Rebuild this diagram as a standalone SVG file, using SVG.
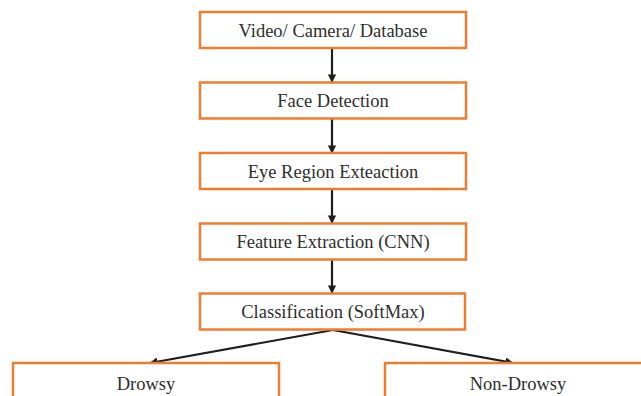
<svg xmlns="http://www.w3.org/2000/svg" width="641" height="396" viewBox="0 0 641 396">
  <style>
    .box { fill: #ffffff; stroke: #ED7D31; stroke-width: 2.5; }
    .lbl { font-family: "Liberation Serif", "Times New Roman", serif; font-size: 18.5px; fill: #2e2e2e; text-anchor: middle; }
    .conn { stroke: #1e1e1e; stroke-width: 2.2; fill: none; marker-end: url(#arrow); }
  </style>
  <defs>
    <marker id="arrow" viewBox="0 0 10 10" refX="9" refY="5" markerWidth="3.8" markerHeight="3.8" orient="auto" markerUnits="strokeWidth">
      <path d="M0,0 L10,5 L0,10 z" fill="#1e1e1e"/>
    </marker>
  </defs>
  <rect width="641" height="396" fill="#ffffff"/>

  <g id="connectors">
    <line class="conn" x1="332" y1="48" x2="332" y2="82"/>
    <line class="conn" x1="332" y1="118" x2="332" y2="153"/>
    <line class="conn" x1="332" y1="189" x2="332" y2="223"/>
    <line class="conn" x1="332" y1="259" x2="332" y2="293"/>
    <line class="conn" x1="333" y1="330" x2="150" y2="363"/>
    <line class="conn" x1="333" y1="330" x2="513" y2="363"/>
  </g>

  <g id="n-source">
    <rect class="box" x="200" y="12" width="266" height="36"/>
    <text class="lbl" x="333" y="36.5">Video/ Camera/ Database</text>
  </g>
  <g id="n-face">
    <rect class="box" x="200" y="82.5" width="266" height="36"/>
    <text class="lbl" x="333" y="107">Face Detection</text>
  </g>
  <g id="n-eye">
    <rect class="box" x="200" y="153" width="266" height="36"/>
    <text class="lbl" x="333" y="177.5">Eye Region Exteaction</text>
  </g>
  <g id="n-feature">
    <rect class="box" x="200" y="223.5" width="266" height="36"/>
    <text class="lbl" x="333" y="248">Feature Extraction (CNN)</text>
  </g>
  <g id="n-classify">
    <rect class="box" x="200" y="293.5" width="265" height="36"/>
    <text class="lbl" x="333" y="318">Classification (SoftMax)</text>
  </g>
  <g id="n-drowsy">
    <rect class="box" x="13" y="363" width="266" height="50"/>
    <text class="lbl" x="146" y="389.5">Drowsy</text>
  </g>
  <g id="n-nondrowsy">
    <rect class="box" x="385" y="363" width="266" height="50"/>
    <text class="lbl" x="518" y="389.5">Non-Drowsy</text>
  </g>
</svg>
